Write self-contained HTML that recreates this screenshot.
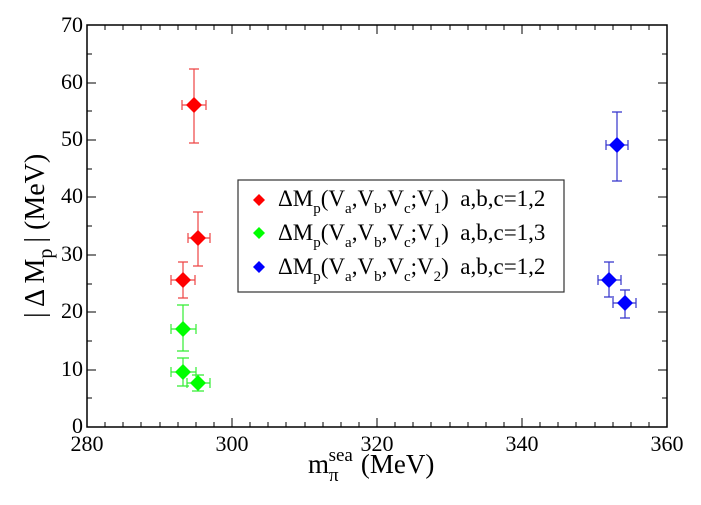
<!DOCTYPE html>
<html><head><meta charset="utf-8"><style>body{margin:0;background:#fff} text,tspan{font-family:"Liberation Serif","DejaVu Serif",serif !important;white-space:pre}</style></head><body>
<svg width="701" height="500" xmlns="http://www.w3.org/2000/svg" font-family="Liberation Serif">
<rect width="701" height="500" fill="#fff"/>
<g stroke="#000" stroke-width="1">
<rect x="87" y="25" width="580" height="402" fill="none" stroke-width="1.5"/>
<path d="M87,427v-9M232,427v-9M377,427v-9M522,427v-9M667,427v-9M87,25v9M232,25v9M377,25v9M522,25v9M667,25v9"/>
<path d="M105,427v-5M123,427v-5M141,427v-5M160,427v-5M178,427v-5M196,427v-5M214,427v-5M250,427v-5M268,427v-5M286,427v-5M305,427v-5M323,427v-5M341,427v-5M359,427v-5M395,427v-5M413,427v-5M431,427v-5M450,427v-5M468,427v-5M486,427v-5M504,427v-5M540,427v-5M558,427v-5M576,427v-5M595,427v-5M613,427v-5M631,427v-5M649,427v-5
M105,25v5M123,25v5M141,25v5M160,25v5M178,25v5M196,25v5M214,25v5M250,25v5M268,25v5M286,25v5M305,25v5M323,25v5M341,25v5M359,25v5M395,25v5M413,25v5M431,25v5M450,25v5M468,25v5M486,25v5M504,25v5M540,25v5M558,25v5M576,25v5M595,25v5M613,25v5M631,25v5M649,25v5"/>
<path d="M87,370h9M87,312h9M87,255h9M87,197h9M87,140h9M87,83h9M667,370h-9M667,312h-9M667,255h-9M667,197h-9M667,140h-9M667,83h-9"/>
<path d="M87,398h5M87,341h5M87,284h5M87,226h5M87,169h5M87,111h5M87,54h5M667,398h-5M667,341h-5M667,284h-5M667,226h-5M667,169h-5M667,111h-5M667,54h-5"/>
</g>
<g font-size="22" fill="#000" text-anchor="end" font-family="Liberation Serif">
<text x="83" y="433">0</text><text x="83" y="376">10</text><text x="83" y="318">20</text><text x="83" y="261">30</text><text x="83" y="203">40</text><text x="83" y="146">50</text><text x="83" y="89">60</text><text x="83" y="32">70</text>
</g>
<g font-size="22" fill="#000" text-anchor="middle" font-family="Liberation Serif">
<text x="87" y="451">280</text><text x="232" y="451">300</text><text x="377" y="451">320</text><text x="522" y="451">340</text><text x="667" y="451">360</text>
</g>
<text x="308" y="473" font-size="27" font-family="Liberation Serif">m<tspan font-size="19" dy="8">π</tspan><tspan font-size="19" dy="-20" dx="-10">sea</tspan><tspan dy="12" dx="8">(MeV)</tspan></text>
<text transform="translate(44,318) rotate(-90)" font-size="28" font-family="Liberation Serif">| Δ M<tspan font-size="20" dy="8">p</tspan><tspan dy="-8" dx="6">| (MeV)</tspan></text>
<g stroke-width="1.2" fill="none">
<g stroke="#e44">
<path d="M194,69V143M189,69h10M189,143h10M182,105H206M182,100v10M206,100v10"/>
<path d="M198,212V266M193,212h10M193,266h10M188,238H210M188,233v10M210,233v10"/>
<path d="M183,262V298M178,262h10M178,298h10M171,280H195M171,275v10M195,275v10"/>
</g>
<g stroke="#3e3">
<path d="M183,305V351M177,305h12M177,351h12M171,329H196M171,324v10M196,324v10"/>
<path d="M183,358V386M177,358h12M177,386h12M171,372H196M171,367v10M196,367v10"/>
<path d="M198,375V391M192,375h12M192,391h12M187,383H210M187,378v10M210,378v10"/>
</g>
<g stroke="#33c">
<path d="M617,112V181M612,112h10M612,181h10M606,145H628M606,140v10M628,140v10"/>
<path d="M609,262V297M604,262h10M604,297h10M598,280H621M598,275v10M621,275v10"/>
<path d="M625,290V318M620,290h10M620,318h10M613,303H636M613,298v10M636,298v10"/>
</g>
</g>
<g>
<g fill="#f00"><path d="M194,97l8,8l-8,8l-8,-8z"/><path d="M198,230l8,8l-8,8l-8,-8z"/><path d="M183,272l8,8l-8,8l-8,-8z"/></g>
<g fill="#0f0"><path d="M183,321l8,8l-8,8l-8,-8z"/><path d="M183,364l8,8l-8,8l-8,-8z"/><path d="M198,375l8,8l-8,8l-8,-8z"/></g>
<g fill="#00f"><path d="M617,137l8,8l-8,8l-8,-8z"/><path d="M609,272l8,8l-8,8l-8,-8z"/><path d="M625,295l8,8l-8,8l-8,-8z"/></g>
</g>
<rect x="238" y="180" width="326" height="112" fill="#fff" stroke="#333" stroke-width="1.2"/>
<path d="M259,194l6,6l-6,6l-6,-6z" fill="#f00"/>
<path d="M259,227l6,6l-6,6l-6,-6z" fill="#0f0"/>
<path d="M259,261l6,6l-6,6l-6,-6z" fill="#00f"/>
<g font-size="23" fill="#000" font-family="Liberation Serif">
<text x="278" y="206">ΔM<tspan font-size="15" dy="7">p</tspan><tspan dy="-7">(V</tspan><tspan font-size="15" dy="7">a</tspan><tspan dy="-7">,V</tspan><tspan font-size="15" dy="7">b</tspan><tspan dy="-7">,V</tspan><tspan font-size="15" dy="7">c</tspan><tspan dy="-7">;V</tspan><tspan font-size="15" dy="7">1</tspan><tspan dy="-7">)&#160;&#160;a,b,c=1,2</tspan></text>
<text x="278" y="240">ΔM<tspan font-size="15" dy="7">p</tspan><tspan dy="-7">(V</tspan><tspan font-size="15" dy="7">a</tspan><tspan dy="-7">,V</tspan><tspan font-size="15" dy="7">b</tspan><tspan dy="-7">,V</tspan><tspan font-size="15" dy="7">c</tspan><tspan dy="-7">;V</tspan><tspan font-size="15" dy="7">1</tspan><tspan dy="-7">)&#160;&#160;a,b,c=1,3</tspan></text>
<text x="278" y="274">ΔM<tspan font-size="15" dy="7">p</tspan><tspan dy="-7">(V</tspan><tspan font-size="15" dy="7">a</tspan><tspan dy="-7">,V</tspan><tspan font-size="15" dy="7">b</tspan><tspan dy="-7">,V</tspan><tspan font-size="15" dy="7">c</tspan><tspan dy="-7">;V</tspan><tspan font-size="15" dy="7">2</tspan><tspan dy="-7">)&#160;&#160;a,b,c=1,2</tspan></text>
</g>
</svg>
</body></html>
